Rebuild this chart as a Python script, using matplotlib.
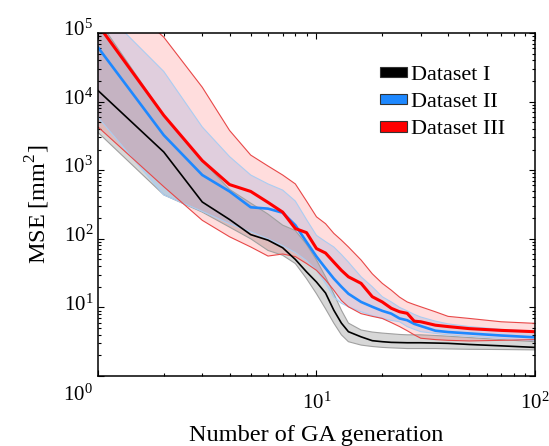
import numpy as np
import matplotlib.pyplot as plt
import matplotlib.transforms as mtransforms
from matplotlib.patches import Patch

plt.rcParams['font.family'] = ['Liberation Serif', 'DejaVu Serif']
plt.rcParams['mathtext.fontset'] = 'custom'
plt.rcParams['mathtext.rm'] = 'Liberation Serif'

# generation number
gen = [1, 2, 3, 4, 5, 6, 7, 8, 9, 10, 11, 12, 13, 14, 16, 18, 20, 22, 24, 26, 28, 30, 35, 40, 50, 70, 100]

# Dataset I
mse1 = [14500, 1840, 344, 191, 115, 95.5, 74, 50, 33, 23.4, 16.2, 9.1, 5.9, 4.42, 3.72, 3.27, 3.16,
        3.09, 3.07, 3.05, 3.05, 3.05, 3.02, 2.99, 2.88, 2.75, 2.61]
up1 = [158000, 6300, 1380, 525, 331, 229, 158, 132, 83, 49, 27.9, 15.8, 9.1, 5.9, 4.68, 4.37, 4.22,
       4.12, 4.03, 3.98, 3.98, 3.98, 3.89, 3.80, 3.63, 3.39, 3.16]
lo1 = [3550, 437, 245, 148, 100, 67.6, 57.5, 43.6, 26.3, 15.8, 9.55, 5.9, 3.98, 3.16, 2.82, 2.69, 2.61,
       2.57, 2.54, 2.51, 2.51, 2.51, 2.51, 2.48, 2.45, 2.43, 2.40]

# Dataset II
mse2 = [61700, 3240, 851, 490, 288, 275, 240, 158, 90, 55, 37.2, 26.3, 20, 15.8, 12, 10.2, 8.9,
        8.1, 6.9, 6.5, 5.75, 5.35, 4.57, 4.37, 4.17, 3.89, 3.66]
up2 = [251000, 27500, 4270, 1580, 851, 631, 513, 355, 191, 112, 91, 76, 59, 45.7, 27.9, 20, 14.3,
       12, 10, 8.9, 7.9, 7.24, 6.3, 5.75, 5.25, 4.79, 4.47]
lo2 = [5890, 437, 251, 166, 126, 100, 79, 63, 48, 34.7, 22.4, 14.1, 11.5, 10.2, 8.63, 7.6, 6.9,
       6.46, 6.17, 5.25, 4.79, 4.42, 4.17, 3.98, 3.8, 3.55, 3.27]

# Dataset III
mse3 = [132000, 6300, 1380, 617, 490, 339, 245, 141, 123, 72, 62, 45.7, 34.7, 27.9, 22.4, 14.3, 12,
        9.7, 8.63, 8.2, 6.3, 6.17, 5.5, 5.25, 4.9, 4.62, 4.42]
up3 = [631000, 87000, 16200, 3800, 1660, 1150, 851, 631, 355, 209, 166, 120, 95.5, 76, 49, 30.9, 22.4,
       17.8, 14.1, 12, 11, 10.2, 8.63, 7.4, 6.9, 6.17, 5.85]
lo3 = [4270, 575, 186, 107, 76, 56, 60, 55, 43.6, 34.7, 25.1, 17.8, 12.6, 10.2, 8.1, 7.4, 6.9,
       6.0, 5.25, 4.57, 3.98, 3.55, 3.39, 3.31, 3.24, 3.31, 3.39]

labels = ['Dataset I', 'Dataset II', 'Dataset III']

fig = plt.figure(figsize=(5.49, 4.46), dpi=100)
ax = fig.add_axes([0.1785, 0.157, 0.796, 0.769])

# bands (fill + thin edge)
ax.fill_between(gen, lo1, up1, facecolor='#707070', alpha=0.28, linewidth=0)
ax.fill_between(gen, lo2, up2, facecolor='#4da6ff', alpha=0.2, linewidth=0)
ax.fill_between(gen, lo3, up3, facecolor='#ff3030', alpha=0.16, linewidth=0)
ax.plot(gen, up1, color='#a0a0a0', lw=0.8)
ax.plot(gen, lo1, color='#a0a0a0', lw=0.8)
ax.plot(gen, up2, color='#aacdf2', lw=0.8)
ax.plot(gen, lo2, color='#aacdf2', lw=0.8)
ax.plot(gen, up3, color='#e84848', lw=0.8)
ax.plot(gen, lo3, color='#e84848', lw=0.8)

# mean curves
ax.plot(gen, mse1, color='black', lw=1.2)
ax.plot(gen, mse2, color='#1e88ff', lw=1.9)
ax.plot(gen, mse3, color='#ff0000', lw=2.2)

ax.set_xscale('log')
ax.set_yscale('log')
ax.set_xlim(1, 100)
ax.set_ylim(1, 1e5)
ax.set_xticks([1, 10, 100])
ax.set_xticklabels(['', r'$\mathdefault{10^{1}}$', r'$\mathdefault{10^{2}}$'])
ax.tick_params(which='both', direction='in', top=True, right=True, labelsize=15, width=0.8)
ax.tick_params(which='major', length=4)
ax.tick_params(axis='x', which='major', pad=12)
ax.tick_params(which='minor', length=2.5)
for s in ax.spines.values():
    s.set_linewidth(1.1)

# y tick labels sit a bit above their ticks; 10^0 is pushed below the axis
fig.canvas.draw()
for lab in ax.get_yticklabels():
    k = np.log10(lab.get_position()[1])
    dy = -0.17 if k < 0.5 else 0.05
    lab.set_transform(lab.get_transform() + mtransforms.ScaledTranslation(0, dy, fig.dpi_scale_trans))

ax.set_xlabel('Number of GA generation', fontsize=17.5, labelpad=8)
ax.set_ylabel('MSE [mm$^2$]', fontsize=17.5, labelpad=8)

handles = [Patch(facecolor=c, edgecolor='#333333', linewidth=0.8)
           for c in ['black', '#1e88ff', '#ff0000']]
ax.legend(handles, labels, loc='upper left', bbox_to_anchor=(0.645, 0.905), frameon=False,
          borderpad=0, borderaxespad=0,
          fontsize=16, handlelength=1.2, handleheight=0.32, handletextpad=0.22, labelspacing=0.38)

fig.savefig('out.png', dpi=100)
